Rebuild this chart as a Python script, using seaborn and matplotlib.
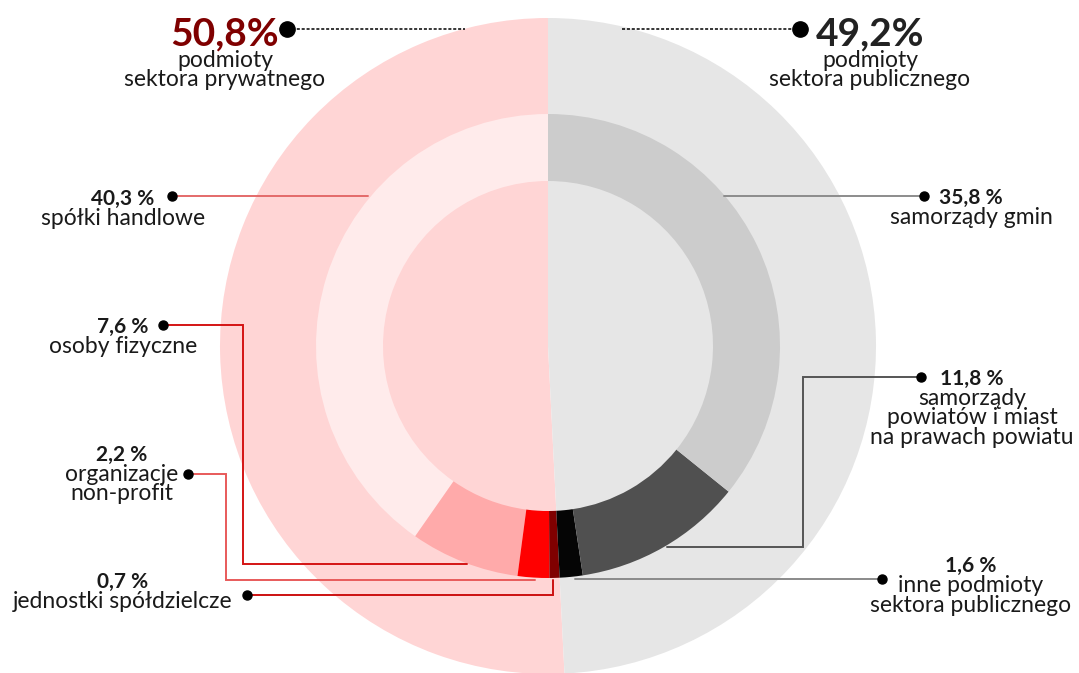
import matplotlib
matplotlib.use("Agg")
import matplotlib.pyplot as plt
import seaborn as sns

# dane: udział podmiotów wg sektora i rodzaju
sector_names = ["podmioty\nsektora prywatnego", "podmioty\nsektora publicznego"]
sector_shares = [50.8, 49.2]

entity_names = [
    "spółki handlowe",
    "osoby fizyczne",
    "organizacje\nnon-profit",
    "jednostki spółdzielcze",
    "inne podmioty\nsektora publicznego",
    "samorządy\npowiatów i miast\nna prawach powiatu",
    "samorządy gmin",
]
entity_shares = [40.3, 7.6, 2.2, 0.7, 1.6, 11.8, 35.8]

# kolory
SECTOR_COLORS = ["#FFD5D5", "#E6E6E6"]
ENTITY_COLORS = ["#FFEBEB", "#FFAAAA", "#FF0000", "#800000", "#050505", "#505050", "#CCCCCC"]
LINE_COLORS = ["#E46A6A", "#D41414", "#E85A5A", "#CC1010", "#8A8A8A", "#555555", "#8C8C8C"]

W, H = 1079, 673
CX, CY = 548, H - 346
R_OUT, R_RING, R_HOLE = 328, 232, 165
FONT = ["Lato", "DejaVu Sans"]
TXT = "#1A1A1A"
FS = 16.5

sns.set_theme(style="white")
plt.rcParams["font.family"] = FONT


def py(y):
    # piksele od góry -> współrzędne osi
    return H - y


def fmt(v, space=" "):
    return f"{v:.1f}".replace(".", ",") + space + "%"


fig = plt.figure(figsize=(W / 100, H / 100), dpi=100)
ax = fig.add_axes([0, 0, 1, 1])

# zewnętrzne koło: sektory
ax.pie(sector_shares, colors=SECTOR_COLORS, radius=R_OUT, center=(CX, CY),
       startangle=90, counterclock=True, wedgeprops=dict(linewidth=0))
# pierścień: rodzaje podmiotów
ax.pie(entity_shares, colors=ENTITY_COLORS, radius=R_RING, center=(CX, CY),
       startangle=90, counterclock=True,
       wedgeprops=dict(width=R_RING - R_HOLE, linewidth=0))

ax.set_xlim(0, W)
ax.set_ylim(0, H)
ax.set_aspect("equal")
ax.axis("off")

# nagłówki sektorów
sec_layout = [
    dict(x=225, base=45, color="#7F0000", dot=287, line=(287, 465)),
    dict(x=870, base=45, color="#222222", dot=800, line=(622, 800)),
]
for name, share, lay in zip(sector_names, sector_shares, sec_layout):
    ax.text(lay["x"], py(lay["base"]), fmt(share, ""), ha="center", va="baseline",
            fontsize=28, fontweight="bold", color=lay["color"])
    for i, ln in enumerate(name.split("\n")):
        ax.text(lay["x"], py(lay["base"] + 22 + 19 * i), ln, ha="center", va="baseline",
                fontsize=FS, color=TXT)
    ax.plot(lay["line"], [py(29), py(29)], color="black", lw=1.1, ls=(0, (2, 1.2)), zorder=3)
    ax.plot([lay["dot"]], [py(29)], "o", color="black", ms=11, zorder=4)

# etykiety rodzajów podmiotów: (x tekstu, linia bazowa %, łamana od kropki)
ent_layout = [
    (123, 205, [(172, 196), (368, 196)]),
    (123, 333, [(163, 325), (243, 325), (243, 564), (467, 564)]),
    (122, 461, [(188, 474), (226, 474), (226, 580), (535, 580)]),
    (123, 588, [(247, 595), (553, 595), (553, 580)]),
    (971, 572, [(882, 579), (575, 579)]),
    (972, 385, [(921, 377), (803, 377), (803, 547), (667, 547)]),
    (971, 204, [(924, 196), (724, 196)]),
]
for name, share, lc, (tx, base, path) in zip(entity_names, entity_shares, LINE_COLORS, ent_layout):
    ax.text(tx, py(base), fmt(share), ha="center", va="baseline",
            fontsize=15, fontweight="bold", color=TXT)
    for i, ln in enumerate(name.split("\n")):
        ax.text(tx, py(base + 20 + 19.5 * i), ln, ha="center", va="baseline",
                fontsize=FS, color=TXT)
    xs = [p[0] for p in path]
    ys = [py(p[1]) for p in path]
    ax.plot(xs, ys, color=lc, lw=1.4, zorder=3, solid_joinstyle="miter")
    ax.plot([xs[0]], [ys[0]], "o", color="black", ms=6.5, zorder=4)

fig.savefig("out.png", dpi=100)
